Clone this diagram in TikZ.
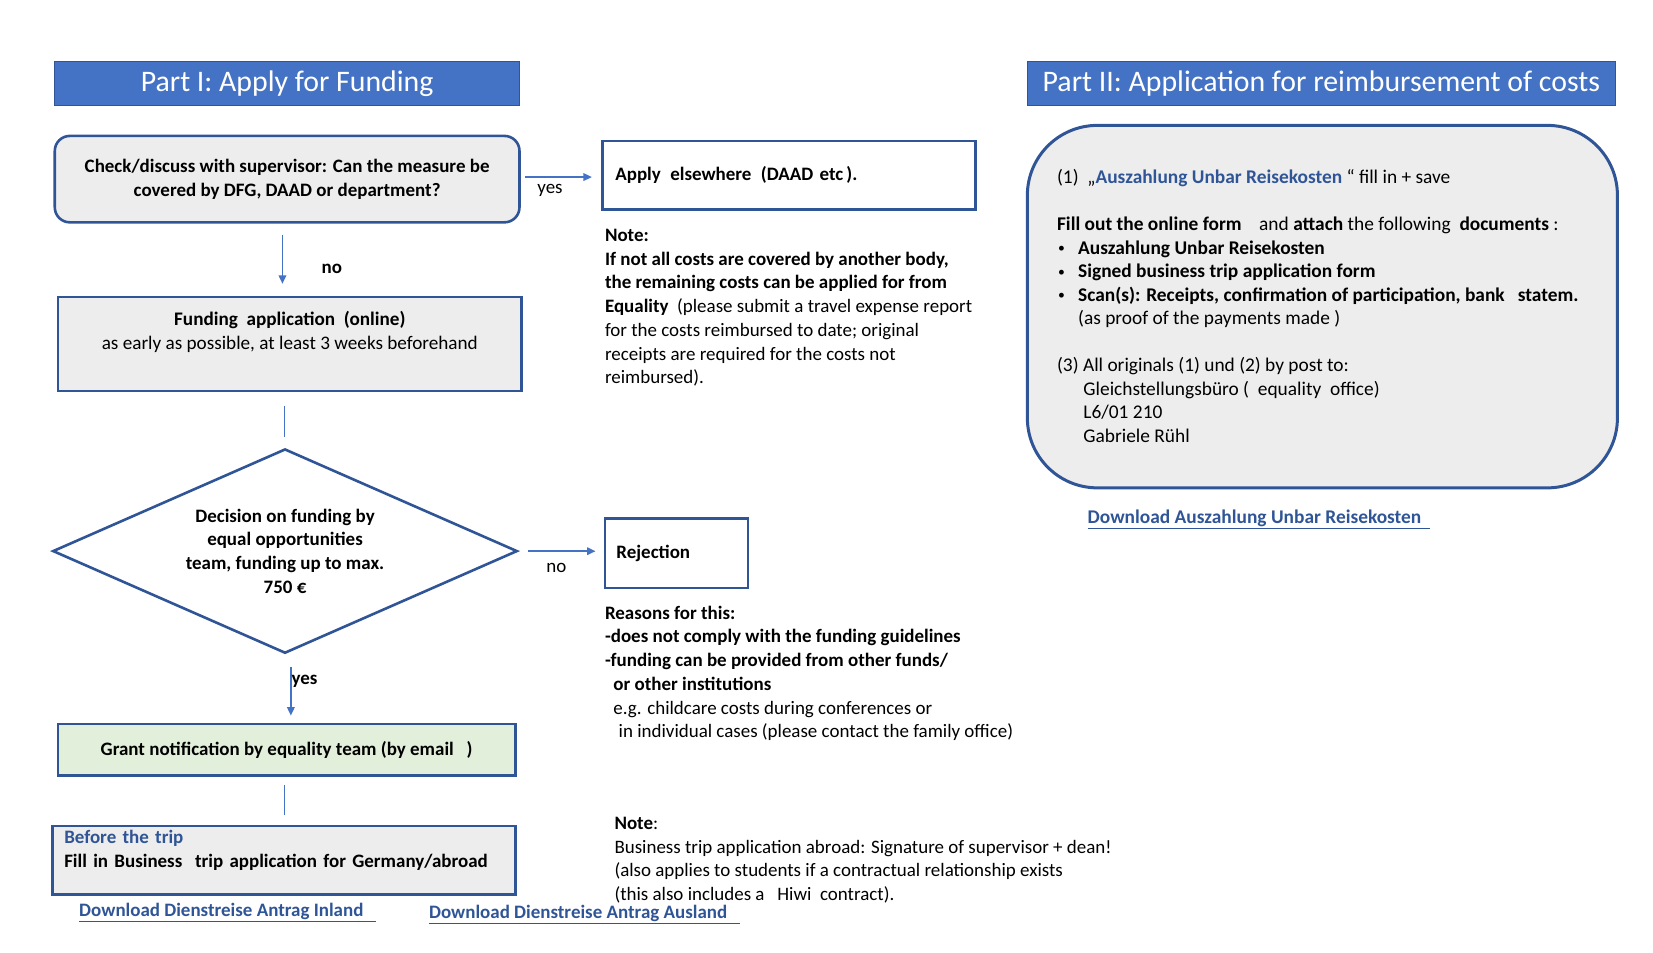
\documentclass[tikz,border=0pt]{standalone}
\usepackage{fontspec}
\setmainfont{Carlito}
\usetikzlibrary{shapes.geometric,arrows.meta,calc}
\definecolor{tblue}{HTML}{4472C4}
\definecolor{bdr}{HTML}{2F5597}
\definecolor{gfill}{HTML}{EDEDED}
\definecolor{gnfill}{HTML}{E2EFDA}
\definecolor{lnk}{HTML}{2F5597}
\newcommand\fsm{\fontsize{18}{22.5}\selectfont}
\newcommand\fsf{\fontsize{18.2}{22.5}\selectfont}
\newcommand\fsr{\fontsize{18.4}{22.3}\selectfont}
\newcommand\fst{\fontsize{28.3}{32}\selectfont}
\newcommand\topsx{\rule{0pt}{15pt}}
\newcommand\bulx{\makebox[20pt][l]{\hspace*{1pt}\raisebox{1pt}{\fontsize{13}{13}\selectfont•}}}
\tikzset{
  box/.style={draw=bdr, line width=2.6pt, font=\fsm, inner sep=0pt},
  titlebox/.style={fill=tblue, draw=bdr, line width=1pt, text=white, font=\fst, minimum height=42pt, inner sep=0pt},
  arr/.style={draw=tblue, line width=1.7pt, -{Triangle[length=8.5pt,width=7.5pt]}},
  conn/.style={draw=tblue, line width=1.7pt},
  txt/.style={font=\fsm, align=left, anchor=north west, inner sep=0pt},
  lab/.style={font=\fsm, inner sep=0pt},
  linkstyle/.style={font=\fsm\bfseries, text=lnk, anchor=base west, inner sep=0pt}
}
\begin{document}
\begin{tikzpicture}[x=1pt,y=-1pt,scale=1.0537,every node/.append style={transform shape}]
\useasboundingbox (0,0) rectangle (1568.76,904.43);
% titles
\node[titlebox, minimum width=441pt] (t1) at (272.5,79) {Part I: Apply for Funding};
\node[titlebox, minimum width=558pt] (t2) at (1254,79) {Part II: Application for reimbursement of costs};
% part I
\node[box, fill=gfill, rounded corners=15pt, minimum width=441pt, minimum height=82pt, align=center, font=\fsm\bfseries] (check) at (272.5,170)
  {Check/discuss with supervisor: Can the measure be\\covered by DFG, DAAD or department?};
\node[box, fill=white, minimum width=354pt, minimum height=65pt, text width=330pt, align=left, font=\fsm\bfseries] (apply) at (749,166.5)
  {Apply\ \,elsewhere\ \,(DAAD etc\,).};
\node[box, fill=gfill, minimum width=440pt, minimum height=89pt, align=center, font=\fsf] (fund) at (275,326.5)
  {\textbf{Funding\ \ application\ \ (online)}\\as early as possible, at least 3 weeks beforehand\\[4pt]\mbox{}};
\node[diamond, draw=bdr, line width=2.6pt, fill=white, aspect=2.27, minimum width=441pt, minimum height=194pt, inner sep=0pt, align=center, font=\fsm\bfseries] (dec) at (270.5,523)
  {Decision on funding by\\equal opportunities\\team, funding up to max.\\750 €};
\node[box, fill=white, minimum width=136pt, minimum height=66pt, text width=114pt, align=left, font=\fsm\bfseries] (rej) at (642,525)
  {Rejection};
\node[box, fill=gnfill, minimum width=434pt, minimum height=49pt, font=\fsm\bfseries] (grant) at (272,711.5)
  {Grant notification by equality team (by email\ \ \ )};
\node[box, fill=gfill, minimum width=439pt, minimum height=65pt, text width=417pt, align=left] (trip) at (269.5,816.5)
  {\textcolor{lnk}{\textbf{Before the trip}}\\\textbf{Fill in Business\ \ trip application\ for Germany/abroad}\\\mbox{}};
% connectors
\coordinate (xa) at (268,0);
\coordinate (xb) at (270,0);
\coordinate (xc) at (276,0);
\draw[arr] ($(check.east)+(4,-2)$) -- ($(apply.west)+(-9,1.5)$);
\draw[arr, shorten <=11pt, shorten >=12pt] (check.south -| xa) -- (fund.north -| xa);
\draw[conn, shorten <=14pt, shorten >=11pt] (fund.south -| xb) -- (dec.north -| xb);
\draw[arr, shorten <=9pt, shorten >=8pt] (dec.east) -- (rej.west |- dec.east);
\draw[arr, shorten <=12pt, shorten >=7pt] (dec.south -| xc) -- (grant.north -| xc);
\draw[conn, shorten <=8pt, shorten >=10pt] (grant.south -| xb) -- (trip.north -| xb);
% labels
\node[lab] (l1) at (522,181) {yes};
\node[lab, font=\fsm\bfseries] (l2) at (315,255) {no};
\node[lab] (l3) at (528,539) {no};
\node[lab, font=\fsm\bfseries] (l4) at (289,647) {yes};
% notes
\node[txt] (note1) at (574,214) {\topsx\textbf{Note:}\\
\textbf{If not all costs are covered by another body,}\\
\textbf{the remaining costs can be applied for from}\\
\textbf{Equality}\ \ (please submit a travel expense report\\
for the costs reimbursed to date; original\\
receipts are required for the costs not\\
reimbursed).};
\node[txt] (reasons) at (574,572.5) {\topsx\textbf{Reasons for this:}\\
\textbf{-does not comply with the funding guidelines}\\
\textbf{-funding can be provided from other funds/}\\
\hspace*{8pt}\textbf{or other institutions}\\
\hspace*{8pt}e.g. childcare costs during conferences or\\
\hspace*{13pt}in individual cases (please contact the family office)};
\node[txt] (note2) at (583,772) {\topsx\textbf{Note}:\\
Business trip application abroad: Signature of supervisor + dean!\\
(also applies to students if a contractual relationship exists\\
(this also includes a\ \ \ Hiwi\ \ contract).};
% links
\node[linkstyle] (dl1) at (75,870) {\underline{Download Dienstreise Antrag Inland\ \ \ }};
\node[linkstyle] (dl2) at (407,872) {\underline{Download Dienstreise Antrag Ausland\ \ \ }};
% part II
\node[box, line width=3pt, fill=gfill, rounded corners=70pt, minimum width=560pt, minimum height=344pt] (pay) at (1255,291) {};
\node[txt, font=\fsr] (paytxt) at (1003,159) {\topsx(1)\ \ „\textcolor{lnk}{\textbf{Auszahlung Unbar Reisekosten}}\ “ fill in + save\\
\mbox{}\\
\textbf{Fill out the online form}\ \ \ \ and \textbf{attach} the following\ \ \textbf{documents} :\\
\bulx\textbf{Auszahlung Unbar Reisekosten}\\
\bulx\textbf{Signed business trip application form}\\
\bulx\textbf{Scan(s): Receipts, confirmation of participation, bank\ \ \ statem.}\\
\hspace*{20pt}(as proof of the payments made )\\
\mbox{}\\
(3) All originals (1) und (2) by post to:\\
\hspace*{25pt}Gleichstellungsbüro (\ \ equality\ \ office)\\
\hspace*{25pt}L6/01 210\\
\hspace*{25pt}Gabriele Rühl};
\node[linkstyle, font=\fsr\bfseries] (dl3) at (1032,497) {\underline{Download Auszahlung Unbar Reisekosten\ \ }};
\end{tikzpicture}
\end{document}
